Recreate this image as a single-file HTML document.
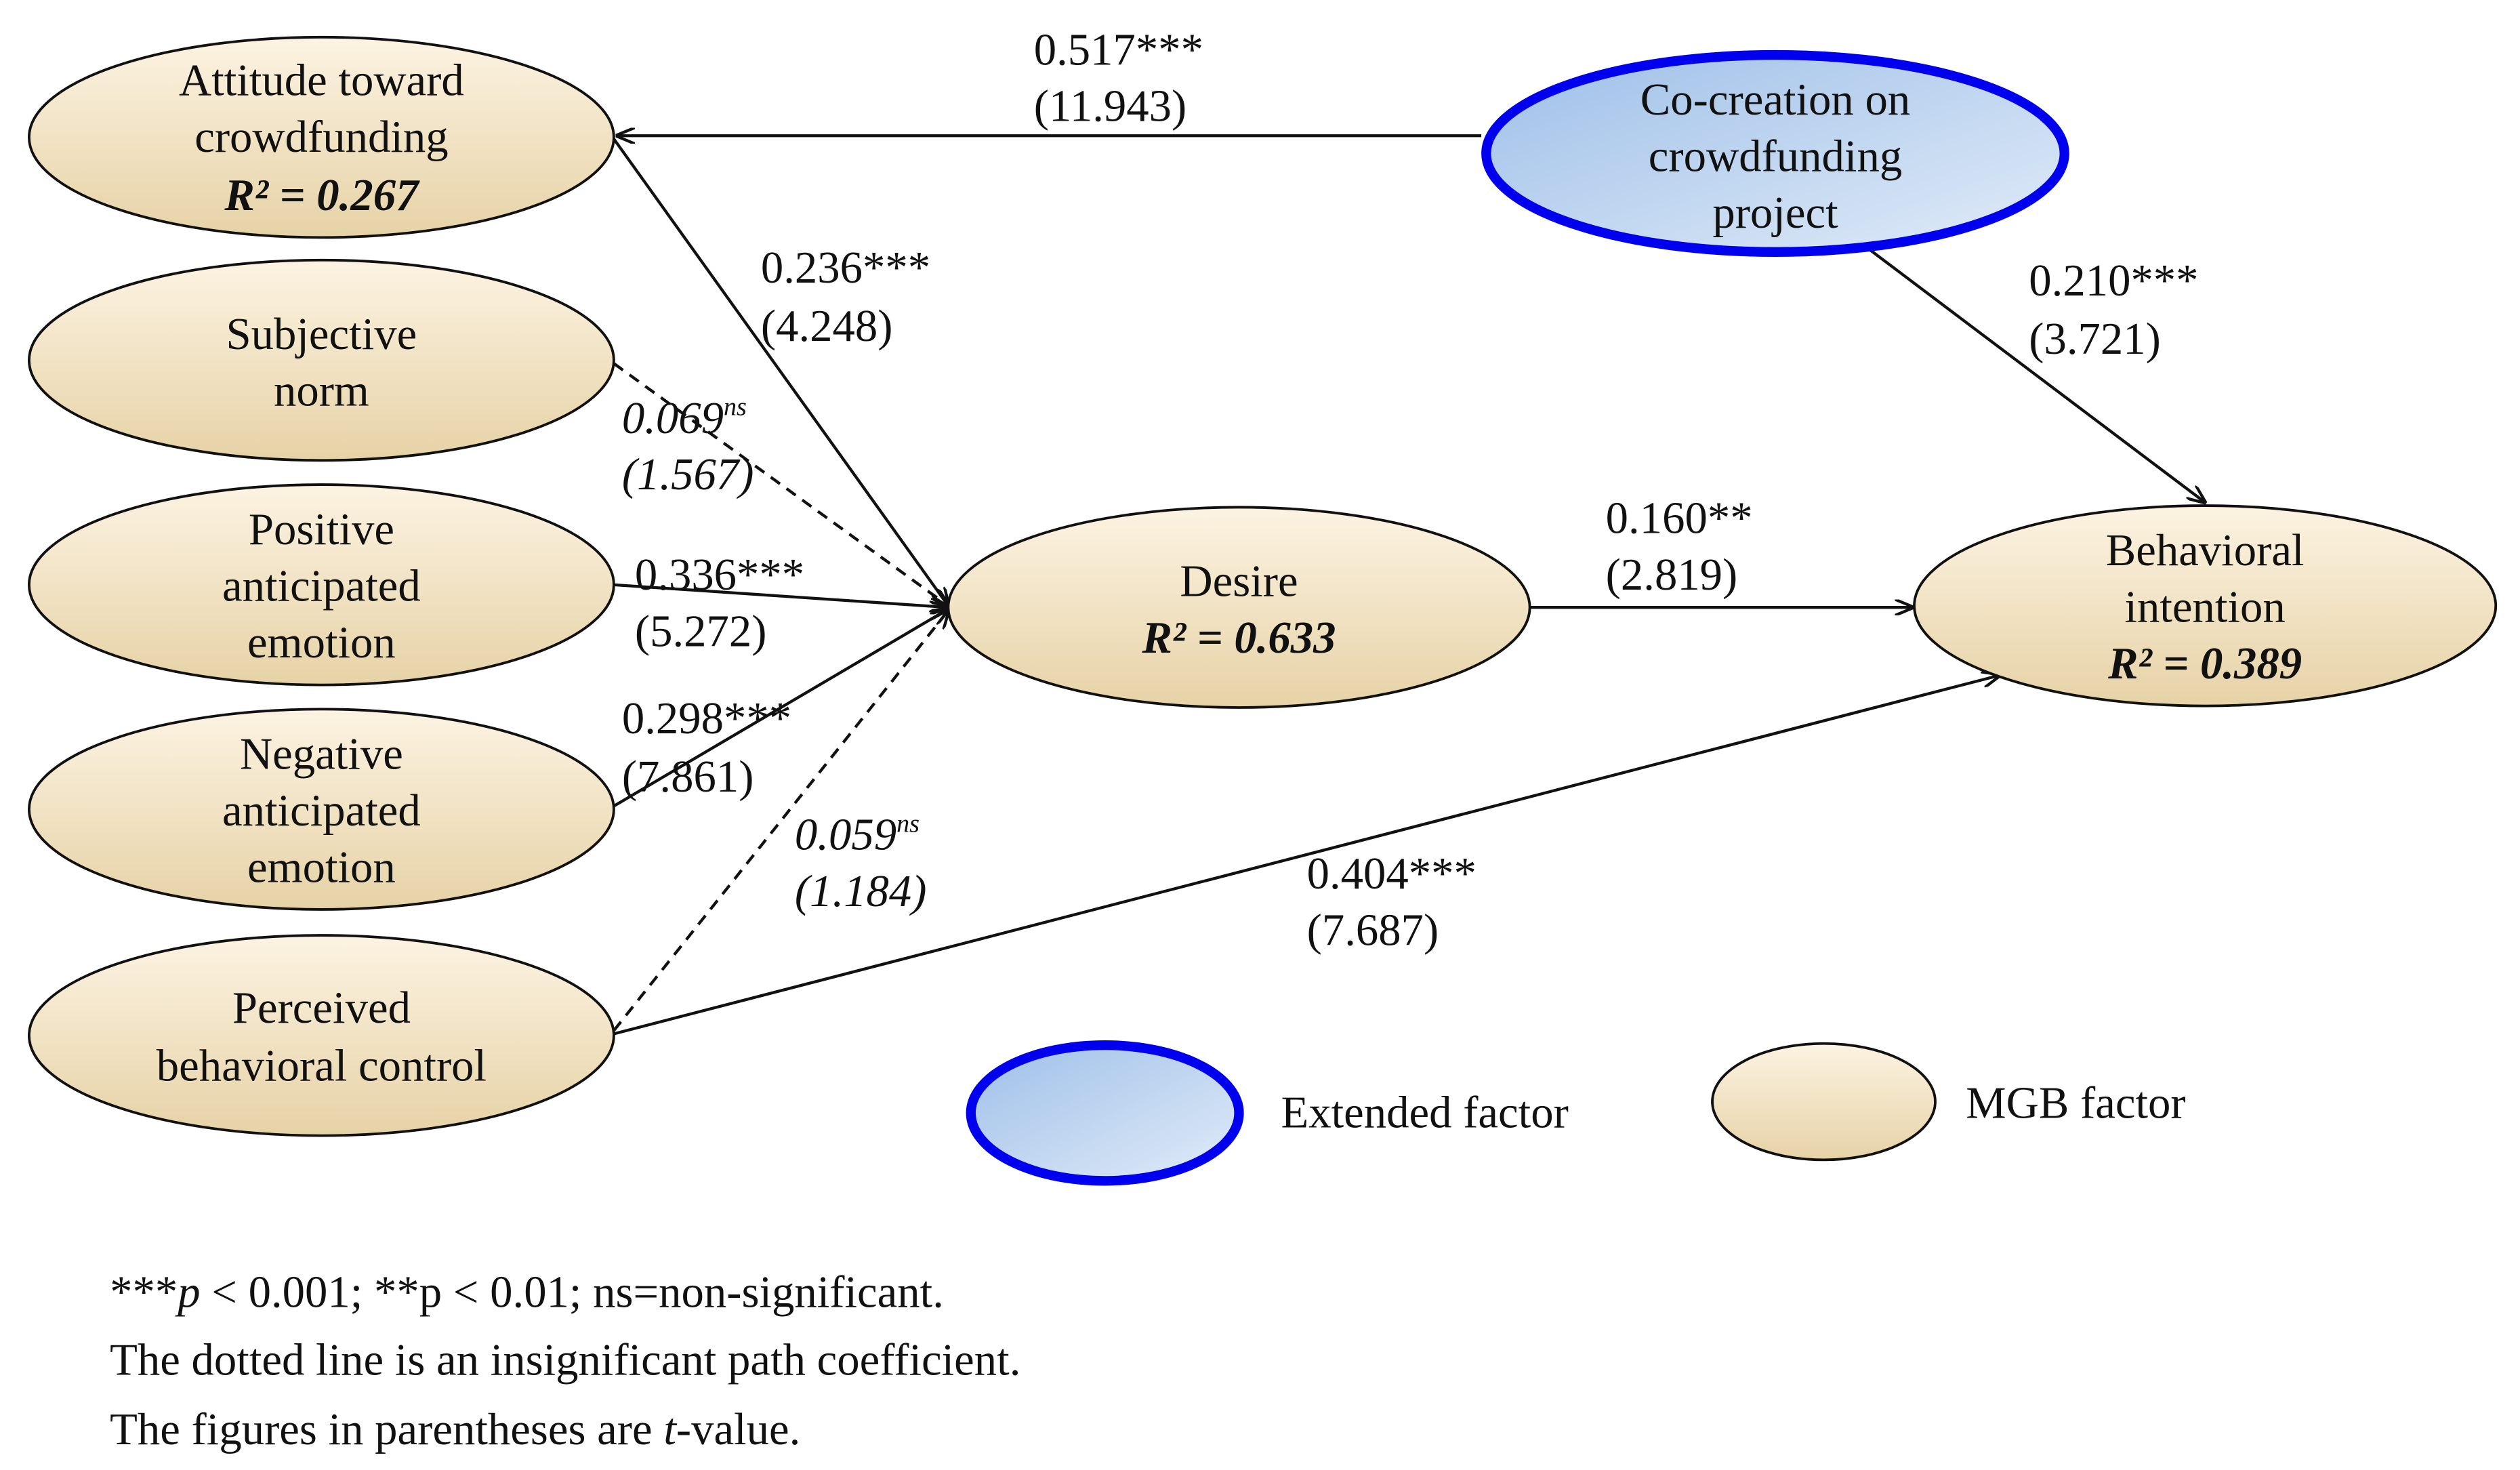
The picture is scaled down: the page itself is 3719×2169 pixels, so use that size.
<!DOCTYPE html>
<html><head><meta charset="utf-8"><style>
html,body{margin:0;padding:0;background:#fff;}
svg{display:block;}
text{font-family:"Liberation Serif",serif;font-size:28px;fill:#111;}
</style></head><body>
<svg width="3719" height="2169" viewBox="0 0 1560 910" preserveAspectRatio="none" xmlns="http://www.w3.org/2000/svg">
<defs>
<linearGradient id="tan" x1="0" y1="0" x2="0" y2="1">
<stop offset="0" stop-color="#fcf3e2"/><stop offset="1" stop-color="#e6d2a6"/></linearGradient>
<linearGradient id="blu" x1="0" y1="0" x2="1" y2="1">
<stop offset="0" stop-color="#9dbfe8"/><stop offset="1" stop-color="#e2ecf8"/></linearGradient>
<marker id="ar" markerWidth="12" markerHeight="10" refX="11" refY="5" orient="auto" markerUnits="userSpaceOnUse">
<path d="M0,0 L12,5 L0,10" fill="none" stroke="#111" stroke-width="1.8"/></marker>
</defs>
<g stroke="#111" stroke-width="1.8" fill="none">
<line x1="917" y1="84" x2="382" y2="84" marker-end="url(#ar)"/>
<line x1="380" y1="86" x2="587" y2="375" marker-end="url(#ar)"/>
<line x1="380" y1="225" x2="587" y2="375" stroke-dasharray="7,5" marker-end="url(#ar)"/>
<line x1="380" y1="362" x2="587" y2="376" marker-end="url(#ar)"/>
<line x1="380" y1="499" x2="587" y2="377" marker-end="url(#ar)"/>
<line x1="380" y1="638" x2="587" y2="378" stroke-dasharray="7,5" marker-end="url(#ar)"/>
<line x1="380" y1="640" x2="1238" y2="418" marker-end="url(#ar)"/>
<line x1="947" y1="376" x2="1184" y2="376" marker-end="url(#ar)"/>
<line x1="1158" y1="155" x2="1365" y2="311" marker-end="url(#ar)"/>
</g>
<g stroke="#111" stroke-width="1.6" fill="url(#tan)">
<ellipse cx="199" cy="85" rx="181" ry="62"/>
<ellipse cx="199" cy="223" rx="181" ry="62"/>
<ellipse cx="199" cy="362" rx="181" ry="62"/>
<ellipse cx="199" cy="501" rx="181" ry="62"/>
<ellipse cx="199" cy="641" rx="181" ry="62"/>
<ellipse cx="767" cy="376" rx="180" ry="62"/>
<ellipse cx="1365" cy="375" rx="180" ry="62"/>
<ellipse cx="1129" cy="682" rx="69" ry="36"/>
</g>
<ellipse cx="1099" cy="95" rx="179" ry="61" fill="url(#blu)" stroke="#0000ee" stroke-width="6"/>
<ellipse cx="684" cy="689" rx="83" ry="42" fill="url(#blu)" stroke="#0000ee" stroke-width="6"/>
<g text-anchor="middle">
<text x="199" y="59">Attitude toward</text>
<text x="199" y="94">crowdfunding</text>
<text x="199" y="130" font-weight="bold" font-style="italic">R² = 0.267</text>
<text x="199" y="216">Subjective</text>
<text x="199" y="251">norm</text>
<text x="199" y="337">Positive</text>
<text x="199" y="372">anticipated</text>
<text x="199" y="407">emotion</text>
<text x="199" y="476">Negative</text>
<text x="199" y="511">anticipated</text>
<text x="199" y="546">emotion</text>
<text x="199" y="633">Perceived</text>
<text x="199" y="669">behavioral control</text>
<text x="1099" y="71">Co-creation on</text>
<text x="1099" y="106">crowdfunding</text>
<text x="1099" y="141">project</text>
<text x="767" y="369">Desire</text>
<text x="767" y="404" font-weight="bold" font-style="italic">R² = 0.633</text>
<text x="1365" y="350">Behavioral</text>
<text x="1365" y="385">intention</text>
<text x="1365" y="420" font-weight="bold" font-style="italic">R² = 0.389</text>
</g>
<text x="640" y="40">0.517***</text>
<text x="640" y="75">(11.943)</text>
<text x="471" y="175">0.236***</text>
<text x="471" y="211">(4.248)</text>
<text x="1256" y="183">0.210***</text>
<text x="1256" y="219">(3.721)</text>
<g font-style="italic">
<text x="385" y="268">0.069<tspan font-size="16" dy="-11">ns</tspan></text>
<text x="385" y="303">(1.567)</text>
<text x="492" y="526">0.059<tspan font-size="16" dy="-11">ns</tspan></text>
<text x="492" y="561">(1.184)</text>
</g>
<text x="393" y="365">0.336***</text>
<text x="393" y="400">(5.272)</text>
<text x="385" y="454">0.298***</text>
<text x="385" y="490">(7.861)</text>
<text x="994" y="330">0.160**</text>
<text x="994" y="365">(2.819)</text>
<text x="809" y="550">0.404***</text>
<text x="809" y="585">(7.687)</text>
<text x="793" y="698">Extended factor</text>
<text x="1217" y="692">MGB factor</text>
<text x="68" y="809">***<tspan font-style="italic">p</tspan> &lt; 0.001; **p &lt; 0.01; ns=non-significant.</text>
<text x="68" y="851">The dotted line is an insignificant path coefficient.</text>
<text x="68" y="894">The figures in parentheses are <tspan font-style="italic">t</tspan>-value.</text>
</svg>
</body></html>
